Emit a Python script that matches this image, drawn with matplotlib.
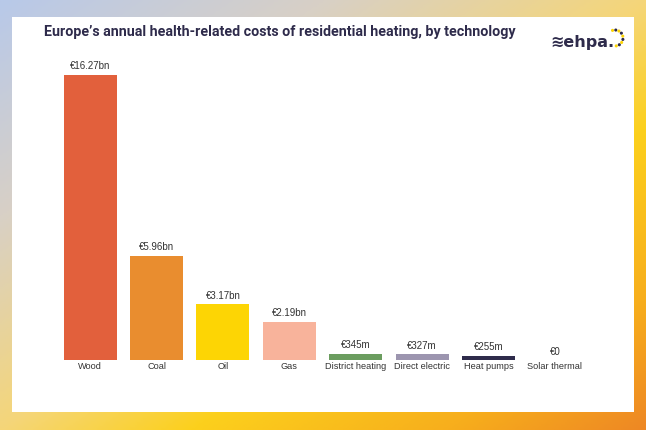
import numpy as np
import matplotlib
matplotlib.use("Agg")
import matplotlib.pyplot as plt
from matplotlib.colors import LinearSegmentedColormap
from matplotlib.patches import Rectangle

# data
technologies = ["Wood", "Coal", "Oil", "Gas", "District heating",
                "Direct electric", "Heat pumps", "Solar thermal"]
costs_bn = [16.27, 5.96, 3.17, 2.19, 0.345, 0.327, 0.255, 0.0]
value_labels = ["€16.27bn", "€5.96bn", "€3.17bn", "€2.19bn",
                "€345m", "€327m", "€255m", "€0"]
bar_colors = ["#E2603C", "#E98D2F", "#FDD504", "#F8B39B",
              "#6B9D5F", "#9C95AF", "#2E2B4B", "#FFFFFF"]

navy = "#2E2B4B"

fig = plt.figure(figsize=(6.46, 4.30), dpi=100)

# gradient frame in the background
bg = fig.add_axes([0, 0, 1, 1])
bg.set_axis_off()
cmap = LinearSegmentedColormap.from_list(
    "frame", [(0.0, "#B8C9E9"), (0.25, "#D8D0C6"), (0.5, "#F5D679"),
              (0.65, "#FCD01C"), (0.85, "#F7AE1C"), (1.0, "#EE8824")])
xx, yy = np.meshgrid(np.linspace(0, 1, 300), np.linspace(0, 1, 200))
grad = 0.5 * xx + 0.5 * yy
bg.imshow(grad, cmap=cmap, extent=[0, 1, 0, 1], origin="upper",
          aspect="auto", interpolation="bilinear")
bg.add_patch(Rectangle((12 / 646, 1 - 412 / 430), 622 / 646, 395 / 430,
                       facecolor="white", edgecolor="none"))
bg.set_xlim(0, 1)
bg.set_ylim(0, 1)

fig.text(44 / 646, 1 - 32 / 430,
         "Europe\u2019s annual health-related costs of residential heating, by technology",
         fontsize=10.3, fontweight="bold", color=navy, family="Roboto",
         va="center", ha="left")

# logo
fig.text(614 / 646, 1 - 43 / 430, "\u224behpa.", fontsize=11.5, color=navy,
         family="DejaVu Sans", va="center", ha="right", fontweight="semibold")
ang = np.linspace(np.pi * 0.6, -np.pi * 0.45, 9)
lx = 615 + 8 * np.cos(ang)
ly = 38 - 8 * np.sin(ang)
dot_cols = ["#FDD504", "#2E2B4B", "#FDD504", "#2E2B4B", "#FDD504",
            "#2E2B4B", "#FDD504", "#2E2B4B", "#FDD504"]
bg.scatter(lx / 646, 1 - ly / 430, s=1.5, c=dot_cols, zorder=3)

# bars
ax = fig.add_axes([57 / 646, 1 - 360 / 430, 531 / 646, 298 / 430])
x = np.arange(len(technologies))
ax.bar(x, costs_bn, width=0.8, color=bar_colors)
for xi, v, lab in zip(x, costs_bn, value_labels):
    ax.annotate(lab, (xi, v), xytext=(0, 2.5), textcoords="offset points",
                ha="center", va="bottom", fontsize=7, color="#333333",
                family="Liberation Sans")
ax.set_xlim(-0.5, 7.5)
ax.set_ylim(0, 17)
ax.set_xticks(x)
ax.set_xticklabels(technologies, fontsize=6.6, color="#333333",
                   family="Liberation Sans")
ax.tick_params(axis="x", length=0, pad=1.5)
ax.set_yticks([])
for s in ax.spines.values():
    s.set_visible(False)
ax.patch.set_alpha(0)

fig.savefig("out.png", dpi=100)
